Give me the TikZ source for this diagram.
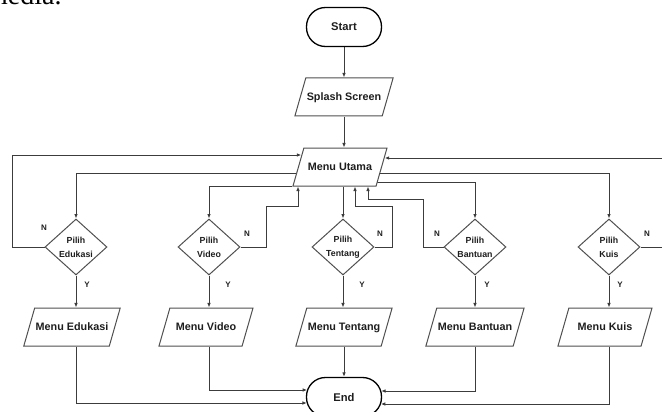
\documentclass[tikz,border=0pt]{standalone}
\usepackage{fontspec}
\setmainfont{Liberation Sans}
\newfontfamily\serifff{Liberation Serif}
\usetikzlibrary{shapes.geometric,arrows.meta,backgrounds}
\definecolor{linegray}{HTML}{3C3C3C}
\definecolor{boxgray}{HTML}{505050}
\definecolor{txt}{HTML}{1E1E1E}
\begin{document}
\begin{tikzpicture}[x=1pt,y=-1pt,
  line/.style={draw=linegray, line width=1pt},
  arr/.style={line, -{Latex[length=4.5pt,width=3.6pt]}},
  term/.style={draw=black, line width=1.3pt, fill=white, rounded corners=19pt, minimum width=75pt, minimum height=39pt, inner sep=0pt, text=txt, font=\bfseries\fontsize{11.2}{12}\selectfont},
  io/.style={trapezium, trapezium left angle=74, trapezium right angle=106, trapezium stretches body, draw=boxgray, line width=1pt, fill=white, minimum width=94pt, text height=8pt, text depth=2pt, inner xsep=1pt, inner ysep=14pt, text=txt, font=\bfseries\fontsize{10.8}{12}\selectfont},
  dec/.style={diamond, draw=boxgray, line width=1pt, fill=white, minimum width=62pt, minimum height=56pt, inner sep=0pt, align=center, text=txt, font=\bfseries\fontsize{8.8}{14}\selectfont},
  lab/.style={text=txt, inner sep=0pt, font=\bfseries\fontsize{8}{9}\selectfont}
]
\useasboundingbox (0,0) rectangle (662,412);

\node[anchor=base west, inner sep=0pt, font=\serifff\fontsize{28}{28}\selectfont] (media) at (-14,5) {media.};

\node[term] (start) at (344,27) {Start};
\node[io] (splash) at (344,97) {Splash Screen};
\node[io] (mu) at (340,167) {Menu Utama};
\node[dec] (de) at (76,247) {Pilih\\Edukasi};
\node[dec] (dv) at (209,247) {Pilih\\Video};
\node[dec] (dt) at (343,247) {Pilih\\Tentang};
\node[dec] (db) at (475,247) {Pilih\\Bantuan};
\node[dec] (dk) at (609,247) {Pilih\\Kuis};
\node[io] (me) at (72,327) {Menu Edukasi};
\node[io] (mv) at (206,327) {Menu Video};
\node[io] (mt) at (344,327) {Menu Tentang};
\node[io] (mb) at (475,327) {Menu Bantuan};
\node[io] (mk) at (605,327) {Menu Kuis};
\node[term] (fin) at (344,397) {End};

\node[lab] (n1) at (44,228) {N};
\node[lab] (n2) at (247,234) {N};
\node[lab] (n3) at (380,234) {N};
\node[lab] (n4) at (437,234) {N};
\node[lab] (n5) at (647,234) {N};
\node[lab] (y1) at (87,285) {Y};
\node[lab] (y2) at (228,285) {Y};
\node[lab] (y3) at (362,285) {Y};
\node[lab] (y4) at (487,285) {Y};
\node[lab] (y5) at (620,285) {Y};

\begin{scope}[on background layer]
\draw[arr] (start.south) -- (start.south |- splash.north);
\draw[arr] (splash.south) -- (splash.south |- mu.north);
\draw[arr] ([yshift=-6pt]mu.center) -| (de.north);
\draw[arr] (mu.bottom left corner) -| (dv.north);
\draw[arr] (dt.north |- mu.south) -- (dt.north);
\draw[arr] ([yshift=-15pt]mu.center) -| (db.north);
\draw[arr] ([yshift=-6pt]mu.center) -| (dk.north);

\draw[arr] (de.west) -- ++(-32,0) |- ([shift={(3.4pt,12pt)}]mu.left side);
\draw[arr] (dv.east) -- ++(26,0) -- ++(0,-41) -| ([xshift=-42pt]mu.south);
\draw[arr] (dt.east) -- ++(18,0) -- ++(0,-41) -| ([xshift=15pt]mu.south);
\draw[arr] (db.west) -- ++(-20,0) -- ++(0,-48) -| ([xshift=28pt]mu.south);
\draw[arr] (dk.east) -- ++(30,0) |- ([shift={(2.6pt,9pt)}]mu.right side);

\draw[arr] (de.south) -- (de.south |- me.north);
\draw[arr] (dv.south) -- (dv.south |- mv.north);
\draw[arr] (dt.south) -- (dt.south |- mt.north);
\draw[arr] (db.south) -- (db.south |- mb.north);
\draw[arr] (dk.south) -- (dk.south |- mk.north);

\draw[arr] (de.south |- me.south) |- ([shift={(1pt,-6pt)}]fin.west);
\draw[arr] (dv.south |- mv.south) |- ([shift={(1.3pt,7pt)}]fin.west);
\draw[arr] (mt.south) -- (mt.south |- fin.north);
\draw[arr] (db.south |- mb.south) |- ([shift={(-1pt,6pt)}]fin.east);
\draw[arr] (dk.south |- mk.south) |- ([shift={(-1.3pt,-7pt)}]fin.east);
\end{scope}
\end{tikzpicture}
\end{document}
